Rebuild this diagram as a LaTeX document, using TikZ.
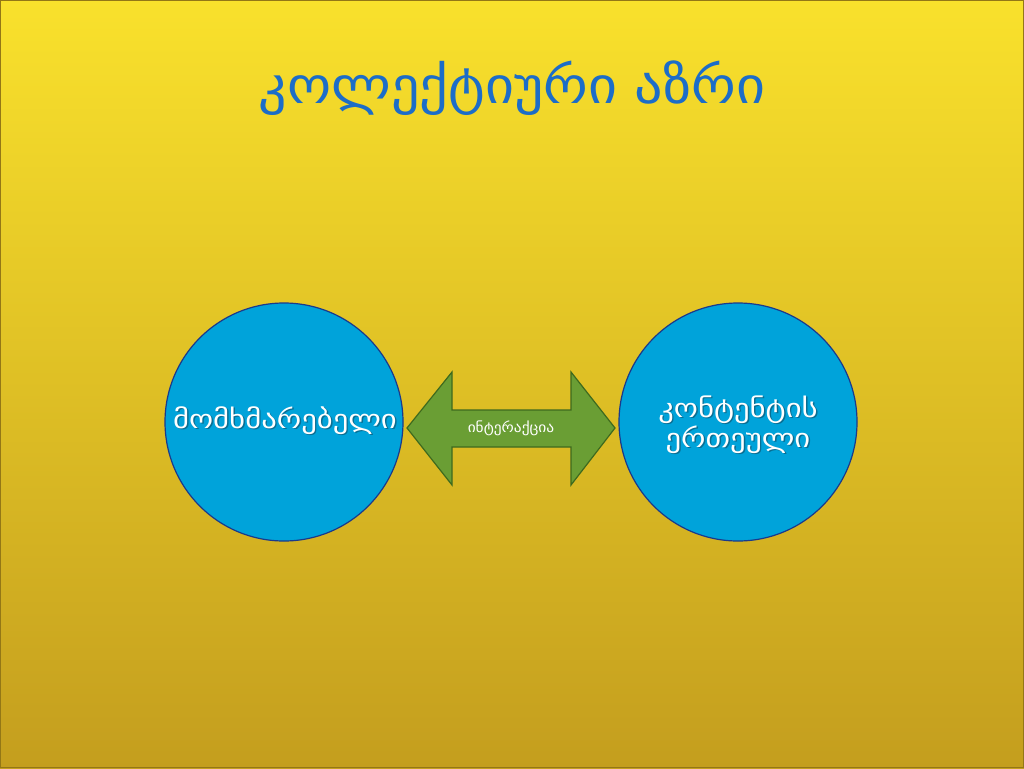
\documentclass[tikz,border=0pt]{standalone}
\usepackage{fontspec}
\newfontfamily\geo{DejaVu Sans}
\definecolor{bgtop}{HTML}{F9E12C}
\definecolor{bgbot}{HTML}{C49E1E}
\definecolor{circfill}{HTML}{00A3DA}
\definecolor{circline}{HTML}{1A3A8C}
\definecolor{arrfill}{HTML}{6A9E34}
\definecolor{arrline}{HTML}{3E6A1E}
\definecolor{titleblue}{HTML}{1C6DC8}
\definecolor{shadowblue}{HTML}{0A6E93}
\newcommand\shline[1]{\makebox[0pt][l]{\hspace{1.2pt}\raisebox{-1.5pt}{\color{shadowblue}#1}}#1}
\tikzset{
  circ/.style={circle, fill=circfill, draw=circline, line width=1.2pt, minimum size=238pt, inner sep=0pt},
  circtext/.style={text=white, font=\geo\fontsize{26}{30}\selectfont, align=center, xscale=1.18},
}
\begin{document}
\begin{tikzpicture}[x=1pt,y=-1pt]
\useasboundingbox (0,0) rectangle (1024,768);
\shade[top color=bgtop, bottom color=bgbot] (0,0) rectangle (1024,768);
\draw[black!25!bgbot, line width=1.2pt] (0.6,0.6) rectangle (1023.4,767.4);
% title
\node[xscale=1.1] (title) at (512,88) {\geo\color{titleblue}\fontsize{51}{60}\selectfont
  \iffontchar\font"1C99 ᲙᲝᲚᲔᲥᲢᲘᲣᲠᲘ ᲐᲖᲠᲘ\else კოლექტიური აზრი\fi};
% circles
\node[circ] (user) at (284,422) {};
\node[circ] (content) at (738,422) {};
\node[circtext] (usert) at (285,421) {\shline{მომხმარებელი}};
\node[circtext] (contentt) at (738,425) {\shline{კონტენტის}\\\shline{ერთეული}};
% double arrow
\coordinate (lt) at (407,428);
\coordinate (rt) at (615,428);
\draw[fill=arrfill, draw=arrline, line width=1.2pt]
  (lt) -- (452,372) -- (452,410) -- (571,410) -- (571,372) -- (rt)
  -- (571,485) -- (571,447) -- (452,447) -- (452,485) -- cycle;
\node[text=white, font=\geo\fontsize{14}{16}\selectfont, xscale=1.1] (inter) at (511,428) {ინტერაქცია};
\end{tikzpicture}
\end{document}
